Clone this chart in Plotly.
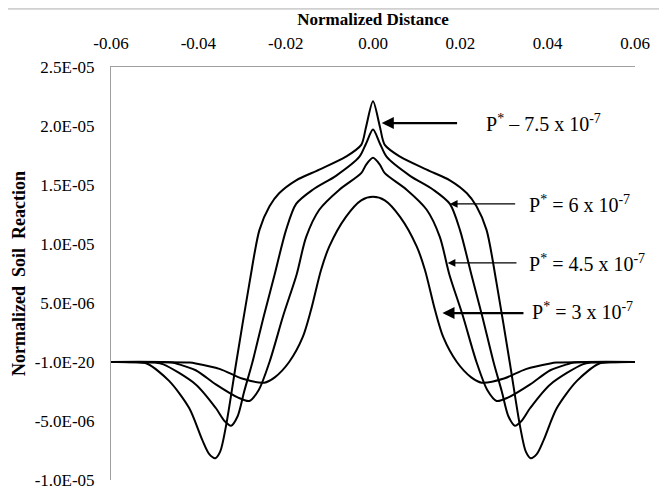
import plotly.graph_objects as go

# Normalized distance (x) and normalized soil reaction (y, in 1e-6 units)
x_p75 = [-0.060, -0.055, -0.0517, -0.0467, -0.0421, -0.0391, -0.0375, -0.0361, -0.0350, -0.0337,
         -0.0313, -0.0282, -0.0260, -0.0237, -0.0215, -0.0176, -0.0123, -0.0062, -0.0027, -0.0016,
         0.0,
         0.0016, 0.0027, 0.0062, 0.0123, 0.0176, 0.0215, 0.0237, 0.0260, 0.0282, 0.0313,
         0.0337, 0.0350, 0.0361, 0.0375, 0.0391, 0.0421, 0.0467, 0.0517, 0.055, 0.060]
y_p75 = [0.0, -0.02, -0.15, -1.6, -3.9, -6.6, -7.8, -8.15, -7.6, -5.5,
         0.0, 6.9, 11.2, 13.2, 14.3, 15.4, 16.3, 17.4, 18.4, 19.9,
         22.1,
         19.9, 18.4, 17.4, 16.3, 15.4, 14.3, 13.2, 11.2, 6.9, 0.0,
         -5.5, -7.6, -8.15, -7.8, -6.6, -3.9, -1.6, -0.15, -0.02, 0.0]

x_p60 = [-0.060, -0.050, -0.048, -0.0406, -0.0360, -0.0340, -0.0325, -0.0310, -0.0295, -0.0276,
         -0.0250, -0.0226, -0.0199, -0.0176, -0.0138, -0.0084, -0.0031, -0.0016,
         0.0,
         0.0016, 0.0031, 0.0084, 0.0138, 0.0176, 0.0199, 0.0226, 0.0250,
         0.0276, 0.0295, 0.0310, 0.0325, 0.0340, 0.0360, 0.0406, 0.048, 0.050, 0.060]
y_p60 = [0.0, -0.05, -0.2, -1.9, -3.9, -5.0, -5.4, -4.6, -2.5, 0.0,
         3.9, 7.3, 11.2, 13.4, 14.6, 15.8, 17.4, 18.5,
         19.7,
         18.5, 17.4, 15.8, 14.6, 13.4, 11.2, 7.3, 3.9,
         0.0, -2.5, -4.6, -5.4, -5.0, -3.9, -1.9, -0.2, -0.05, 0.0]

x_p45 = [-0.060, -0.046, -0.0444, -0.0406, -0.0360, -0.0310, -0.0283, -0.0262, -0.0237,
         -0.0205, -0.0175, -0.0153, -0.0123, -0.0077, -0.0027, -0.0016,
         0.0,
         0.0016, 0.0027, 0.0077, 0.0123, 0.0153, 0.0175, 0.0205,
         0.0237, 0.0262, 0.0283, 0.0310, 0.0360, 0.0406, 0.0444, 0.046, 0.060]
y_p45 = [0.0, -0.05, -0.2, -0.7, -1.9, -3.0, -3.3, -2.4, 0.0,
         4.0, 7.4, 10.6, 12.9, 14.6, 16.0, 16.7,
         17.3,
         16.7, 16.0, 14.6, 12.9, 10.6, 7.4, 4.0,
         0.0, -2.4, -3.3, -3.0, -1.9, -0.7, -0.2, -0.05, 0.0]

x_p30 = [-0.060, -0.042, -0.0406, -0.035, -0.030, -0.0249, -0.0225, -0.0192,
         -0.0161, -0.0142, -0.0119, -0.0100, -0.0062, -0.0027,
         0.0,
         0.0027, 0.0062, 0.0100, 0.0119, 0.0142, 0.0161,
         0.0192, 0.0225, 0.0249, 0.030, 0.035, 0.0406, 0.042, 0.060]
y_p30 = [0.0, -0.05, -0.12, -0.6, -1.4, -1.75, -1.3, 0.0,
         2.1, 4.4, 7.8, 9.8, 12.3, 13.7,
         14.0,
         13.7, 12.3, 9.8, 7.8, 4.4, 2.1,
         0.0, -1.3, -1.75, -1.4, -0.6, -0.12, -0.05, 0.0]

series = [("P* = 7.5 x 10-7", x_p75, y_p75),
          ("P* = 6 x 10-7", x_p60, y_p60),
          ("P* = 4.5 x 10-7", x_p45, y_p45),
          ("P* = 3 x 10-7", x_p30, y_p30)]

x_ticks = [-0.06, -0.04, -0.02, 0.0, 0.02, 0.04, 0.06]
x_tick_text = ["-0.06", "-0.04", "-0.02", "0.00", "0.02", "0.04", "0.06"]
y_ticks = [2.5e-5, 2.0e-5, 1.5e-5, 1.0e-5, 5.0e-6, 0.0, -5.0e-6, -1.0e-5]
y_tick_text = ["2.5E-05", "2.0E-05", "1.5E-05", "1.0E-05", "5.0E-06", "-1.0E-20", "-5.0E-06", "-1.0E-05"]

FONT = "Liberation Serif"

fig = go.Figure()
for name, xs, ys in series:
    fig.add_trace(go.Scatter(x=xs, y=[v * 1e-6 for v in ys], mode="lines", name=name,
                             line=dict(color="black", width=2, shape="spline", smoothing=0.8),
                             showlegend=False))

# label annotations: (arrow head x, arrow y, arrow tail x, text x, text y, text, arrow width)
labels = [
    (0.0020, 2.025e-5, 0.0196, 0.0254, 2.025e-5, "P<sup>*</sup> – 7.5 x 10<sup>-7</sup>", 2.2),
    (0.0176, 1.34e-5, 0.0329, 0.0352, 1.335e-5, "P<sup>*</sup> = 6 x 10<sup>-7</sup>", 1.4),
    (0.0171, 8.4e-6, 0.0332, 0.0352, 8.4e-6, "P<sup>*</sup> = 4.5 x 10<sup>-7</sup>", 1.4),
    (0.0159, 4.15e-6, 0.0348, 0.0359, 4.3e-6, "P<sup>*</sup> = 3 x 10<sup>-7</sup>", 2.2),
]
for hx, hy, tx, lx, ly, txt, w in labels:
    fig.add_annotation(x=hx, y=hy, ax=tx, ay=hy, xref="x", yref="y", axref="x", ayref="y",
                       text="", showarrow=True, arrowhead=2, arrowsize=1.1, arrowwidth=w,
                       arrowcolor="black", standoff=0, startstandoff=0)
    fig.add_annotation(x=lx, y=ly, xref="x", yref="y", text=txt, showarrow=False,
                       xanchor="left", yanchor="middle",
                       font=dict(family=FONT, size=20, color="black"))

# outer chart border (top and right edges visible in the reference)
fig.add_shape(type="line", xref="paper", yref="paper", x0=-0.25, x1=1.0496, y0=1.141, y1=1.141,
              line=dict(color="#d0d0d0", width=2))
fig.add_shape(type="line", xref="paper", yref="paper", x0=1.0496, x1=1.0496, y0=1.141, y1=-0.05,
              line=dict(color="#d0d0d0", width=2))

fig.update_layout(
    width=659, height=489,
    margin=dict(l=103, r=32, t=59, b=17),
    paper_bgcolor="white", plot_bgcolor="white",
    font=dict(family=FONT, size=17, color="black"),
    xaxis=dict(side="top", range=[-0.06, 0.06], tickvals=x_ticks, ticktext=x_tick_text,
               showgrid=False, zeroline=False, showline=True, linecolor="#a0a0a0", linewidth=1,
               ticks="", ticklabelstandoff=10, automargin=False, ticklabeloverflow="allow",
               tickfont=dict(family=FONT, size=17),
               title=dict(text="<b>Normalized Distance</b>", standoff=4,
                          font=dict(family=FONT, size=17))),
    yaxis=dict(range=[-1.0e-5, 2.5e-5], tickvals=y_ticks, ticktext=y_tick_text,
               showgrid=False, zeroline=False,
               showline=True, linecolor="#a0a0a0", linewidth=1,
               ticks="", ticklabelstandoff=12, automargin=False, ticklabeloverflow="allow",
               tickfont=dict(family=FONT, size=17),
               title=dict(text="<b>Normalized\u00a0\u00a0Soil\u00a0\u00a0Reaction</b>", standoff=4,
                          font=dict(family=FONT, size=18))),
)

fig.write_html("out.html")
